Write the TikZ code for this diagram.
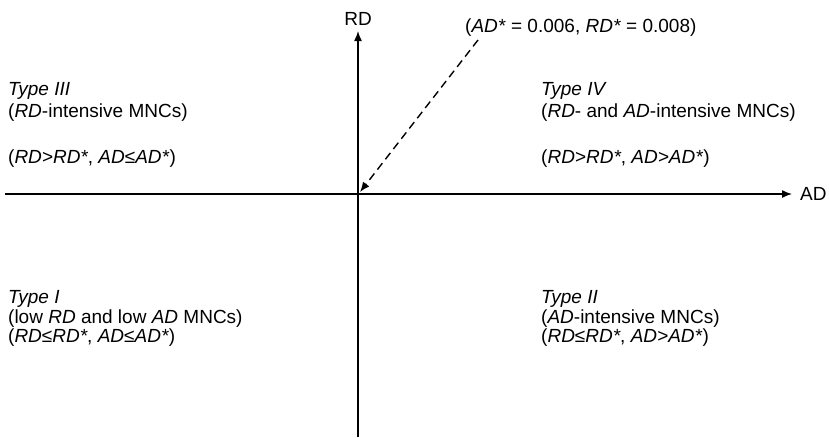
\documentclass[tikz,border=0pt]{standalone}
\usepackage{fontspec}
\setmainfont{Liberation Sans}
\usetikzlibrary{arrows.meta}
\tikzset{
  axis/.style={line width=1.4pt,-{Latex[length=10pt,width=8pt]}},
  dasharrow/.style={line width=1.4pt,dash pattern=on 8pt off 5pt,-{Latex[length=10pt,width=8pt]}},
  lbl/.style={inner sep=0pt,anchor=base west,font=\fontsize{19}{23}\selectfont},
  axlbl/.style={inner sep=0pt,font=\fontsize{19}{23}\selectfont},
}
\begin{document}
\begin{tikzpicture}[x=1pt,y=-1pt]
\useasboundingbox (0,0) rectangle (829,437);
% axes
\coordinate (xs) at (5,194);
\coordinate (xe) at (792,194);
\coordinate (ys) at (358,437);
\coordinate (ye) at (358,31);
\draw[axis] (xs) -- (xe);
\draw[axis] (ys) -- (ye);
\node[axlbl,anchor=west] (adl) at (800,194) {AD};
\node[axlbl,anchor=base] (rdl) at (358,25) {RD};
% threshold label and dashed arrow
\node[lbl] (thr) at (465,32) {(\textit{AD*} = 0.006, \textit{RD*} = 0.008)};
\coordinate (ds) at (478,40);
\coordinate (de) at (360,192);
\draw[dasharrow] (ds) -- (de);
% Type III
\node[lbl] (t3a) at (8,95) {\textit{Type III}};
\node[lbl] (t3b) at (8,117) {(\textit{RD}-intensive MNCs)};
\node[lbl] (t3c) at (8,163) {(\textit{RD>RD*}, \textit{AD≤AD*})};
% Type IV
\node[lbl] (t4a) at (541,95) {\textit{Type IV}};
\node[lbl] (t4b) at (541,117) {(\textit{RD}- and \textit{AD}-intensive MNCs)};
\node[lbl] (t4c) at (541,163) {(\textit{RD>RD*}, \textit{AD>AD*})};
% Type I
\node[lbl] (t1a) at (8,303) {\textit{Type I}};
\node[lbl] (t1b) at (8,323) {(low \textit{RD} and low \textit{AD} MNCs)};
\node[lbl] (t1c) at (8,342) {(\textit{RD≤RD*}, \textit{AD≤AD*})};
% Type II
\node[lbl] (t2a) at (541,303) {\textit{Type II}};
\node[lbl] (t2b) at (541,323) {(\textit{AD}-intensive MNCs)};
\node[lbl] (t2c) at (541,342) {(\textit{RD≤RD*}, \textit{AD>AD*})};
\end{tikzpicture}
\end{document}
